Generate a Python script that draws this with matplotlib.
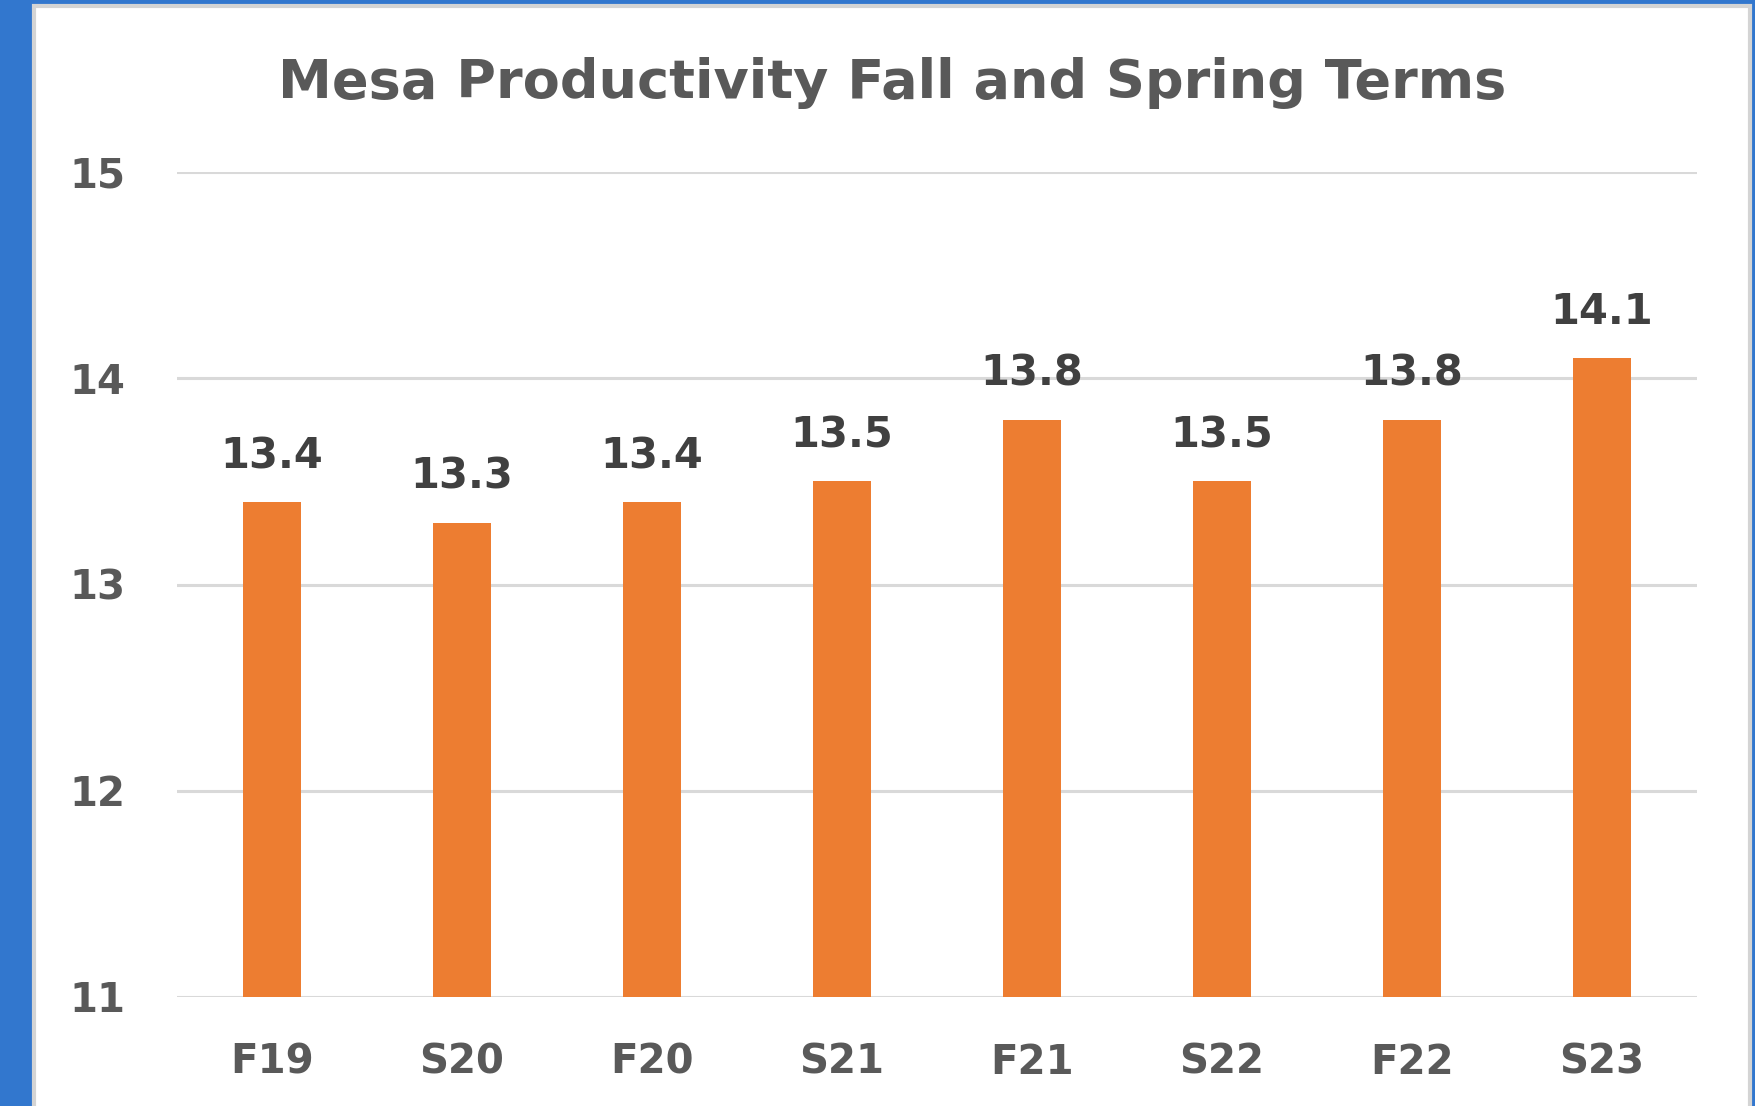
import matplotlib
matplotlib.use("Agg")
import matplotlib.pyplot as plt
from matplotlib.patches import Rectangle

categories = ["F19", "S20", "F20", "S21", "F21", "S22", "F22", "S23"]
values = [13.4, 13.3, 13.4, 13.5, 13.8, 13.5, 13.8, 14.1]
yticks = [11, 12, 13, 14, 15]
title = "Mesa Productivity Fall and Spring Terms"

W, H = 1756, 1106
fig = plt.figure(figsize=(W / 100, H / 100), dpi=100)
fig.patch.set_facecolor("#3277CE")
fig.patches.append(Rectangle((34 / W, -0.01), (1750 - 34) / W, (H - 6) / H + 0.01,
                             transform=fig.transFigure, facecolor="white",
                             edgecolor="#D4D4D4", linewidth=3, zorder=-10))

font = "DejaVu Sans"
ax = fig.add_axes([177 / W, 109 / H, (1697 - 177) / W, (997 - 172) / H])
ax.set_facecolor("none")
x = list(range(len(categories)))
ax.bar(x, values, width=0.305, color="#ED7D31", zorder=3)
ax.set_ylim(11, 15)
ax.set_xlim(-0.5, len(categories) - 0.5)
ax.set_yticks(yticks)
ax.set_yticklabels([str(t) for t in yticks], fontsize=29, color="#595959",
                   fontfamily=font, fontweight="bold")
ax.set_xticks(x)
ax.set_xticklabels(categories, fontsize=29, color="#595959",
                   fontfamily=font, fontweight="bold")
ax.tick_params(axis="y", length=0, pad=37)
ax.tick_params(axis="x", length=0, pad=33)
for s in ax.spines.values():
    s.set_visible(False)
ax.grid(axis="y", color="#D9D9D9", linewidth=2.2, zorder=0)
ax.set_axisbelow(True)

for xi, v in zip(x, values):
    ax.annotate(f"{v:.1f}", (xi, v), xytext=(0, 33), textcoords="offset points",
                ha="center", va="center", fontsize=30, color="#404040",
                fontfamily=font, fontweight="bold")

fig.text(0.5 * (37 + 1747) / W, 1 - 83 / H, title, ha="center", va="center",
         fontsize=39, color="#595959", fontfamily=font, fontweight="bold")

fig.savefig("out.png", dpi=100, facecolor=fig.get_facecolor())
